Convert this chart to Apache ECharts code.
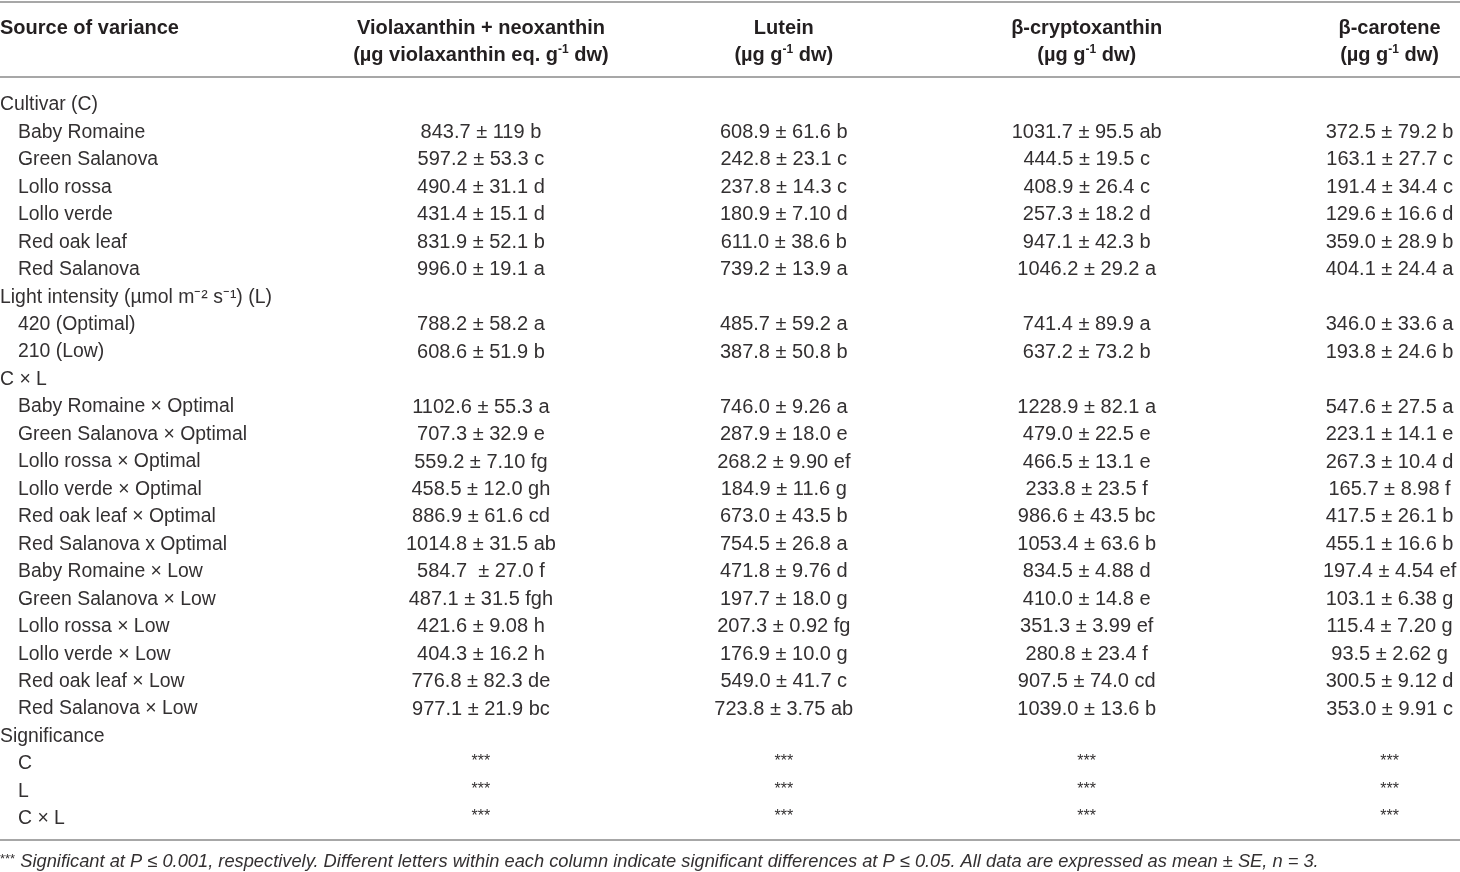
<!DOCTYPE html>
<html>
<head>
<meta charset="utf-8">
<script src="https://cdn.jsdelivr.net/npm/echarts@6/dist/echarts.min.js"></script>
<style>
  html, body { margin: 0; padding: 0; background: #fff; }
  #chart { width: 1460px; height: 872px; }
</style>
</head>
<body>
<div id="chart"></div>
<script>
  // row labels of the table (first column)
  var rowLabels = [
    'Cultivar (C)',
    'Baby Romaine', 'Green Salanova', 'Lollo rossa', 'Lollo verde', 'Red oak leaf', 'Red Salanova',
    'Light intensity (µmol m⁻² s⁻¹) (L)',
    '420 (Optimal)', '210 (Low)',
    'C × L',
    'Baby Romaine × Optimal', 'Green Salanova × Optimal', 'Lollo rossa × Optimal', 'Lollo verde × Optimal',
    'Red oak leaf × Optimal', 'Red Salanova x Optimal',
    'Baby Romaine × Low', 'Green Salanova × Low', 'Lollo rossa × Low', 'Lollo verde × Low',
    'Red oak leaf × Low', 'Red Salanova × Low',
    'Significance',
    'C', 'L', 'C × L'
  ]
  // group titles are not indented
  var groupRows = [0, 7, 10, 23]

  var headTitles = ['Violaxanthin + neoxanthin', 'Lutein', 'β-cryptoxanthin', 'β-carotene']
  var headUnits = ['(µg violaxanthin eq. g{sup|-1} dw)', '(µg g{sup|-1} dw)', '(µg g{sup|-1} dw)', '(µg g{sup|-1} dw)']

  var violaxanthin = [
    '', '843.7 ± 119 b', '597.2 ± 53.3 c', '490.4 ± 31.1 d', '431.4 ± 15.1 d', '831.9 ± 52.1 b', '996.0 ± 19.1 a',
    '', '788.2 ± 58.2 a', '608.6 ± 51.9 b',
    '', '1102.6 ± 55.3 a', '707.3 ± 32.9 e', '559.2 ± 7.10 fg', '458.5 ± 12.0 gh', '886.9 ± 61.6 cd', '1014.8 ± 31.5 ab',
    '584.7  ± 27.0 f', '487.1 ± 31.5 fgh', '421.6 ± 9.08 h', '404.3 ± 16.2 h', '776.8 ± 82.3 de', '977.1 ± 21.9 bc',
    '', '***', '***', '***'
  ]
  var lutein = [
    '', '608.9 ± 61.6 b', '242.8 ± 23.1 c', '237.8 ± 14.3 c', '180.9 ± 7.10 d', '611.0 ± 38.6 b', '739.2 ± 13.9 a',
    '', '485.7 ± 59.2 a', '387.8 ± 50.8 b',
    '', '746.0 ± 9.26 a', '287.9 ± 18.0 e', '268.2 ± 9.90 ef', '184.9 ± 11.6 g', '673.0 ± 43.5 b', '754.5 ± 26.8 a',
    '471.8 ± 9.76 d', '197.7 ± 18.0 g', '207.3 ± 0.92 fg', '176.9 ± 10.0 g', '549.0 ± 41.7 c', '723.8 ± 3.75 ab',
    '', '***', '***', '***'
  ]
  var cryptoxanthin = [
    '', '1031.7 ± 95.5 ab', '444.5 ± 19.5 c', '408.9 ± 26.4 c', '257.3 ± 18.2 d', '947.1 ± 42.3 b', '1046.2 ± 29.2 a',
    '', '741.4 ± 89.9 a', '637.2 ± 73.2 b',
    '', '1228.9 ± 82.1 a', '479.0 ± 22.5 e', '466.5 ± 13.1 e', '233.8 ± 23.5 f', '986.6 ± 43.5 bc', '1053.4 ± 63.6 b',
    '834.5 ± 4.88 d', '410.0 ± 14.8 e', '351.3 ± 3.99 ef', '280.8 ± 23.4 f', '907.5 ± 74.0 cd', '1039.0 ± 13.6 b',
    '', '***', '***', '***'
  ]
  var carotene = [
    '', '372.5 ± 79.2 b', '163.1 ± 27.7 c', '191.4 ± 34.4 c', '129.6 ± 16.6 d', '359.0 ± 28.9 b', '404.1 ± 24.4 a',
    '', '346.0 ± 33.6 a', '193.8 ± 24.6 b',
    '', '547.6 ± 27.5 a', '223.1 ± 14.1 e', '267.3 ± 10.4 d', '165.7 ± 8.98 f', '417.5 ± 26.1 b', '455.1 ± 16.6 b',
    '197.4 ± 4.54 ef', '103.1 ± 6.38 g', '115.4 ± 7.20 g', '93.5 ± 2.62 g', '300.5 ± 9.12 d', '353.0 ± 9.91 c',
    '', '***', '***', '***'
  ]

  var footnote = '{star|***} Significant at P ≤ 0.001, respectively. Different letters within each column indicate significant differences at P ≤ 0.05. All data are expressed as mean ± SE, n = 3.'

  var FONT = '"Liberation Sans", Arial, sans-serif'
  var INK = '#333031'

  // header lines sit above row 0 on the same row scale
  var HEAD_ROW1 = -2.8
  var HEAD_ROW2 = -1.82
  var FOOT_ROW = 27.57
  var rules = [[0, -3.68], [0, -0.95], [0, 26.84]]

  // build cell list from the arrays
  var cells = []
  cells.push({ col: 0, row: HEAD_ROW1, text: 'Source of variance', kind: 'head' })
  headTitles.forEach(function (t, i) {
    cells.push({ col: i + 1, row: HEAD_ROW1, text: t, kind: 'head' })
    cells.push({ col: i + 1, row: HEAD_ROW2, text: headUnits[i], kind: 'head' })
  })
  var columns = [violaxanthin, lutein, cryptoxanthin, carotene]
  rowLabels.forEach(function (label, r) {
    cells.push({ col: 0, row: r, text: label, kind: groupRows.indexOf(r) >= 0 ? 'group' : 'item' })
    columns.forEach(function (vals, c) {
      if (vals[r]) {
        cells.push({ col: c + 1, row: r, text: vals[r], kind: vals[r] === '***' ? 'star' : 'value' })
      }
    })
  })
  cells.push({ col: 0, row: FOOT_ROW, text: footnote, kind: 'foot' })

  function renderCell (params, api) {
    var cell = cells[params.dataIndex]
    var pt = api.coord([api.value(0), api.value(1)])
    var left = cell.col === 0
    var x = left ? params.coordSys.x + (cell.kind === 'item' ? 18 : 0) : pt[0]
    var style = {
      text: cell.text,
      x: x,
      y: pt[1] + 2,
      align: left ? 'left' : 'center',
      verticalAlign: 'middle',
      fontFamily: FONT,
      fontSize: 19.4,
      fill: INK
    }
    if (cell.kind === 'head') {
      style.fontWeight = 'bold'
      style.fontSize = 20
      style.fill = '#231f20'
      style.rich = {
        sup: { fontSize: 12, fontWeight: 'bold', fontFamily: FONT, verticalAlign: 'top', padding: [0, 0, 10, 0], fill: '#231f20' }
      }
    } else if (cell.kind === 'value') {
      style.fontSize = 20
    } else if (cell.kind === 'star') {
      style.fontSize = 16
      style.y = pt[1]
    } else if (cell.kind === 'foot') {
      style.fontSize = 18.3
      style.fontStyle = 'italic'
      style.rich = {
        star: { fontSize: 13, fontFamily: FONT, fontStyle: 'normal', padding: [0, 0, 6, 0], fill: INK }
      }
    }
    return { type: 'text', style: style }
  }

  function renderRule (params, api) {
    var y = api.coord([0, api.value(1)])[1]
    var cs = params.coordSys
    return {
      type: 'line',
      shape: { x1: cs.x, y1: y, x2: cs.x + cs.width, y2: y },
      style: { stroke: '#a7a7a7', lineWidth: 2 }
    }
  }

  var chart = echarts.init(document.getElementById('chart'))
  chart.setOption({
    animation: false,
    grid: { left: 0, right: 0, top: 0, bottom: 0 },
    xAxis: { type: 'value', min: -0.5877, max: 4.2325, show: false },
    yAxis: { type: 'value', inverse: true, min: -3.751, max: 28.004, show: false },
    series: [
      {
        type: 'custom',
        renderItem: renderRule,
        data: rules,
        silent: true
      },
      {
        type: 'custom',
        renderItem: renderCell,
        data: cells.map(function (c) { return [c.col, c.row] }),
        silent: true
      }
    ]
  })
</script>
</body>
</html>
